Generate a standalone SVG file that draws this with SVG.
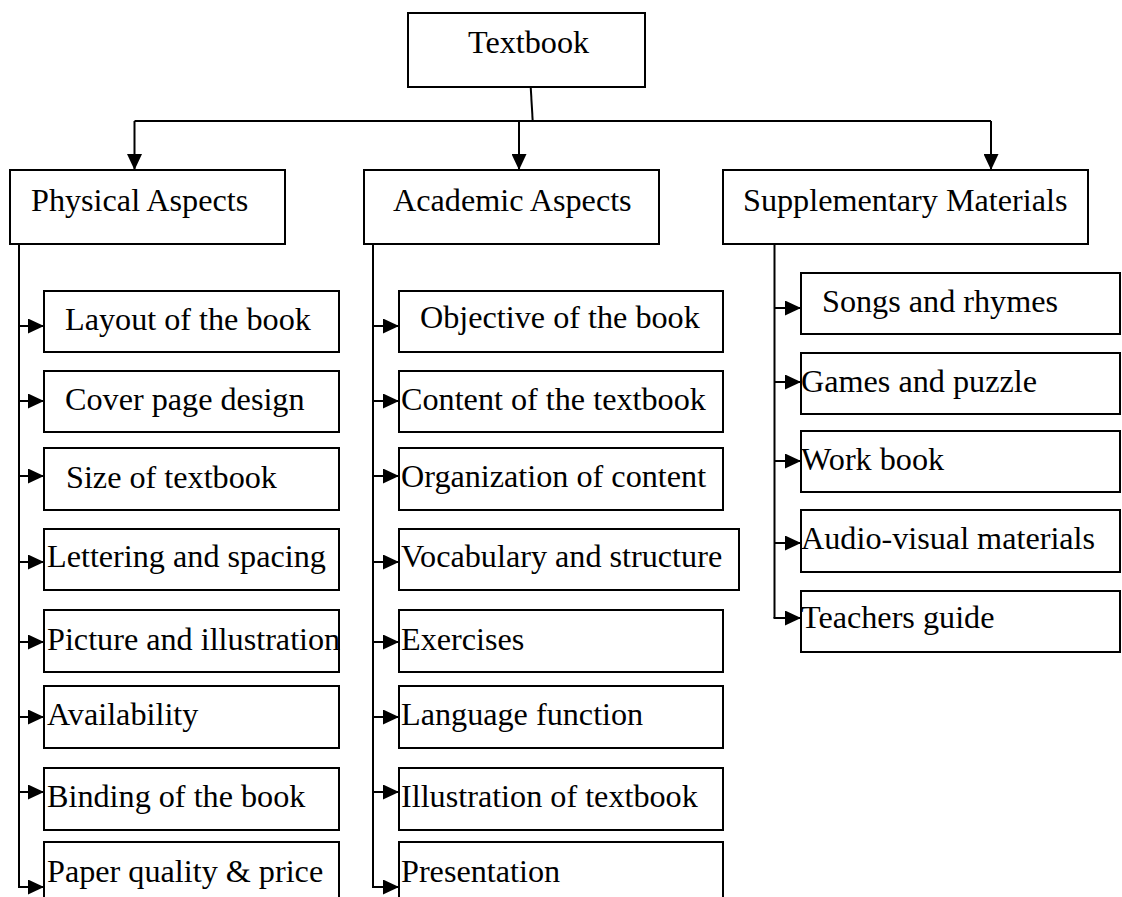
<svg xmlns="http://www.w3.org/2000/svg" width="1122" height="897" viewBox="0 0 1122 897">
<style>
.box{fill:#fff;stroke:#000;stroke-width:2}
.t{font-family:"Liberation Serif","Times New Roman",serif;font-size:32.2px;fill:#000}
.c{fill:none;stroke:#000;stroke-width:2}
.ca{fill:none;stroke:#000;stroke-width:2;marker-end:url(#ah)}
</style>
<defs>
<marker id="ah" markerUnits="userSpaceOnUse" markerWidth="16" markerHeight="15" refX="16" refY="7.5" orient="auto" viewBox="0 0 16 15">
<path d="M0,0 L16,7.5 L0,15 Z" fill="#000"/>
</marker>
</defs>
<rect width="1122" height="897" fill="#fff"/>
<g id="connectors">
<path class="c" d="M530.7,87 L532.7,121"/>
<path class="c" d="M134.5,121 H991"/>
<path class="ca" d="M134.5,121 V170"/>
<path class="ca" d="M519,121 V170"/>
<path class="ca" d="M991,121 V170"/>
<path class="c" d="M19,244 V887"/>
<path class="ca" d="M19,326 H44"/>
<path class="ca" d="M19,401 H44"/>
<path class="ca" d="M19,476 H44"/>
<path class="ca" d="M19,562 H44"/>
<path class="ca" d="M19,642 H44"/>
<path class="ca" d="M19,717 H44"/>
<path class="ca" d="M19,792 H44"/>
<path class="ca" d="M18,887 H44"/>
<path class="c" d="M373,244 V887"/>
<path class="ca" d="M373,326 H399"/>
<path class="ca" d="M373,401 H399"/>
<path class="ca" d="M373,476 H399"/>
<path class="ca" d="M373,562 H399"/>
<path class="ca" d="M373,642 H399"/>
<path class="ca" d="M373,717 H399"/>
<path class="ca" d="M373,792 H399"/>
<path class="ca" d="M372,887 H399"/>
<path class="c" d="M774.5,244 V618"/>
<path class="ca" d="M774.5,308 H801"/>
<path class="ca" d="M774.5,382 H801"/>
<path class="ca" d="M774.5,461 H801"/>
<path class="ca" d="M774.5,543 H801"/>
<path class="ca" d="M773.5,618 H801"/>
</g>
<g id="textbook"><rect class="box" x="408" y="13" width="237" height="74"/><text class="t" x="468" y="53">Textbook</text></g>
<g id="physical"><rect class="box" x="10" y="170" width="275" height="74"/><text class="t" x="31" y="211">Physical Aspects</text></g>
<g id="academic"><rect class="box" x="364" y="170" width="295" height="74"/><text class="t" x="393" y="211">Academic Aspects</text></g>
<g id="supplementary"><rect class="box" x="723" y="170" width="365" height="74"/><text class="t" x="743" y="211">Supplementary Materials</text></g>
<g id="layout"><rect class="box" x="44" y="291" width="295" height="61"/><text class="t" x="65" y="330">Layout of the book</text></g>
<g id="cover"><rect class="box" x="44" y="371" width="295" height="61"/><text class="t" x="65" y="410">Cover page design</text></g>
<g id="size"><rect class="box" x="44" y="448" width="295" height="62"/><text class="t" x="66" y="488">Size of textbook</text></g>
<g id="lettering"><rect class="box" x="44" y="529" width="295" height="61"/><text class="t" x="47" y="567">Lettering and spacing</text></g>
<g id="picture"><rect class="box" x="44" y="610" width="295" height="62"/><text class="t" x="47" y="650">Picture and illustration</text></g>
<g id="availability"><rect class="box" x="44" y="686" width="295" height="62"/><text class="t" x="47" y="725">Availability</text></g>
<g id="binding"><rect class="box" x="44" y="768" width="295" height="62"/><text class="t" x="47" y="807">Binding of the book</text></g>
<g id="paper"><rect class="box" x="44" y="842" width="295" height="80"/><text class="t" x="47" y="882">Paper quality &amp; price</text></g>
<g id="objective"><rect class="box" x="399" y="291" width="324" height="61"/><text class="t" x="420" y="328">Objective of the book</text></g>
<g id="content"><rect class="box" x="399" y="371" width="324" height="61"/><text class="t" x="401" y="410">Content of the textbook</text></g>
<g id="organization"><rect class="box" x="399" y="448" width="324" height="62"/><text class="t" x="401" y="487">Organization of content</text></g>
<g id="vocabulary"><rect class="box" x="399" y="529" width="340" height="61"/><text class="t" x="401" y="567">Vocabulary and structure</text></g>
<g id="exercises"><rect class="box" x="399" y="610" width="324" height="62"/><text class="t" x="401" y="650">Exercises</text></g>
<g id="language"><rect class="box" x="399" y="686" width="324" height="62"/><text class="t" x="401" y="725">Language function</text></g>
<g id="illustration"><rect class="box" x="399" y="768" width="324" height="62"/><text class="t" x="401" y="807">Illustration of textbook</text></g>
<g id="presentation"><rect class="box" x="399" y="842" width="324" height="80"/><text class="t" x="401" y="882">Presentation</text></g>
<g id="songs"><rect class="box" x="801" y="273" width="319" height="61"/><text class="t" x="822" y="312">Songs and rhymes</text></g>
<g id="games"><rect class="box" x="801" y="353" width="319" height="61"/><text class="t" x="801" y="392">Games and puzzle</text></g>
<g id="workbook"><rect class="box" x="801" y="431" width="319" height="61"/><text class="t" x="801" y="470">Work book</text></g>
<g id="audiovisual"><rect class="box" x="801" y="510" width="319" height="62"/><text class="t" x="801" y="549">Audio-visual materials</text></g>
<g id="teachers"><rect class="box" x="801" y="591" width="319" height="61"/><text class="t" x="801" y="628">Teachers guide</text></g>
</svg>
